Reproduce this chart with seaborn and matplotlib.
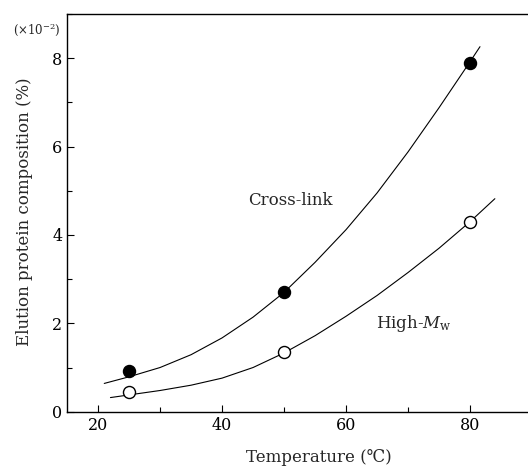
import numpy as np
import pandas as pd
import matplotlib
matplotlib.use("Agg")
import matplotlib.pyplot as plt
import seaborn as sns
from matplotlib.ticker import MultipleLocator

# Measured points (x10^-2 %)
temps = [25, 50, 80]
crosslink = [0.93, 2.71, 7.89]
high_mw = [0.45, 1.35, 4.30]

# Fitted curves
cross_curve_t = [21, 25, 30, 35, 40, 45, 50, 55, 60, 65, 70, 75, 80, 81.6]
cross_curve_v = [0.64, 0.79, 1.00, 1.29, 1.67, 2.14, 2.70, 3.38, 4.12, 4.95, 5.88, 6.88, 7.92, 8.26]
high_curve_t = [22, 25, 30, 35, 40, 45, 50, 55, 60, 65, 70, 75, 80, 84]
high_curve_v = [0.32, 0.38, 0.48, 0.60, 0.76, 1.00, 1.33, 1.72, 2.16, 2.63, 3.15, 3.70, 4.30, 4.82]

xticks = [20, 40, 60, 80]
yticks = [0, 2, 4, 6, 8]

sns.set_style("ticks")
plt.rcParams["font.family"] = ["DejaVu Serif", "DejaVu Sans"]
plt.rcParams["mathtext.fontset"] = "dejavuserif"

fig = plt.figure(figsize=(5.28, 4.66), dpi=100)
ax = fig.add_axes([0.127, 0.1165, 0.8807, 0.8535])

pts = pd.DataFrame({"t": temps, "cross": crosslink, "high": high_mw})
cc = pd.DataFrame({"t": cross_curve_t, "v": cross_curve_v})
hc = pd.DataFrame({"t": high_curve_t, "v": high_curve_v})

sns.lineplot(data=cc, x="t", y="v", ax=ax, color="black", lw=0.8, sort=True)
sns.lineplot(data=hc, x="t", y="v", ax=ax, color="black", lw=0.8, sort=True)
sns.scatterplot(data=pts, x="t", y="cross", ax=ax, s=75, color="black",
                edgecolor="black", linewidth=1.0, zorder=3)
sns.scatterplot(data=pts, x="t", y="high", ax=ax, s=75, color="white",
                edgecolor="black", linewidth=1.0, zorder=3)

ax.set_xlim(15, 90)
ax.set_ylim(0, 9)
ax.set_xticks(xticks)
ax.set_yticks(yticks)
ax.xaxis.set_minor_locator(MultipleLocator(10))
ax.yaxis.set_minor_locator(MultipleLocator(1))
ax.tick_params(which="both", direction="in", labelsize=11.5, colors="black")
ax.tick_params(which="major", length=5, width=0.8)
ax.tick_params(which="minor", length=3.5, width=0.8)
for s in ax.spines.values():
    s.set_linewidth(1.0)
    s.set_color("black")

ax.set_xlabel("")
ax.set_ylabel("")
fig.text(319 / 528, 1 - 458 / 466, "Temperature (\u2103)", ha="center", va="center", fontsize=12)
fig.text(25 / 528, 1 - 212 / 466, "Elution protein composition (%)", rotation=90,
         ha="center", va="center", fontsize=12)
fig.text(37 / 528, 1 - 30 / 466, r"($\times$10$^{-2}$)", ha="center", va="center", fontsize=8.5)

ax.text(44.2, 4.78, "Cross-link", fontsize=12, va="center", ha="left")
ax.text(64.8, 2.0, r"High-$M_{\rm w}$", fontsize=12, va="center", ha="left")

fig.savefig("out.png", dpi=100)
